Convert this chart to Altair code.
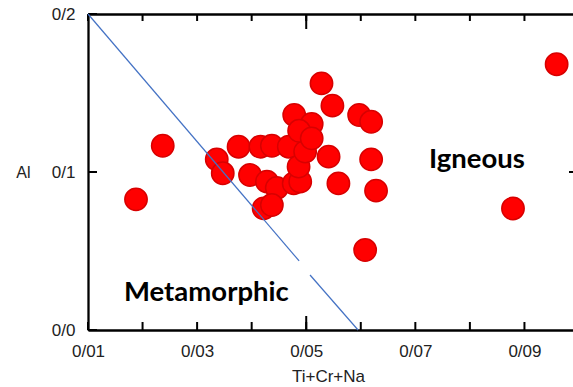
import altair as alt
import pandas as pd

# Sample compositions: Ti+Cr+Na (x) against Al (y)
ti_cr_na = [0.0188, 0.0237, 0.0336, 0.0347, 0.0376, 0.0397, 0.0416, 0.0428,
            0.0437, 0.0446, 0.0422, 0.0437, 0.0468, 0.0477, 0.0489, 0.0486,
            0.0498, 0.0478, 0.0510, 0.0487, 0.0510, 0.0528, 0.0548, 0.0597,
            0.0619, 0.0541, 0.0619, 0.0559, 0.0628, 0.0608, 0.0879, 0.0959]
al = [0.0827, 0.1166, 0.1080, 0.0992, 0.1160, 0.0981, 0.1160, 0.0939,
      0.1166, 0.0899, 0.0770, 0.0791, 0.1160, 0.0928, 0.0939, 0.1034,
      0.1129, 0.1361, 0.1304, 0.1261, 0.1213, 0.1561, 0.1420, 0.1361,
      0.1318, 0.1097, 0.1080, 0.0928, 0.0882, 0.0506, 0.0769, 0.1682]

# Igneous / metamorphic boundary (drawn in two pieces)
boundary_x = [0.01, 0.0487, 0.0507, 0.0595]
boundary_y = [0.2, 0.0437, 0.0348, 0.0]
boundary_piece = ["a", "a", "b", "b"]

# Field names written on the diagram
field_names = ["Metamorphic", "Igneous"]

# Axis ticks and their labels
x_ticks = [0.01, 0.02, 0.03, 0.04, 0.05, 0.06, 0.07, 0.08, 0.09]
x_tick_labels = ["0/01", "", "0/03", "", "0/05", "", "0/07", "", "0/09"]
x_major_ticks = [0.05]
y_ticks = [0.0, 0.1, 0.2]
y_tick_labels = ["0/0", "0/1", "0/2"]
y_right_ticks = [0.1]

W, H = 485, 316

points = pd.DataFrame({"x": ti_cr_na, "y": al})
boundary = pd.DataFrame({"x": boundary_x, "y": boundary_y, "piece": boundary_piece})
xt = pd.DataFrame({"t": x_ticks})
xt_major = pd.DataFrame({"t": x_major_ticks})
yt = pd.DataFrame({"t": y_ticks})
yt_right = pd.DataFrame({"t": y_right_ticks})
meta_df = pd.DataFrame({"label": [field_names[0]]})
ign_df = pd.DataFrame({"label": [field_names[1]]})


def label_expr(values, labels):
    parts = [f"abs(datum.value - {v}) < 1e-9 ? '{lab}'" for v, lab in zip(values, labels)]
    return " : ".join(parts) + " : ''"


FONT = "Liberation Sans"
x_scale = alt.Scale(domain=[0.01, 0.0989], nice=False, zero=False)
y_scale = alt.Scale(domain=[0.0, 0.2], nice=False, zero=False)

line_style = dict(domainColor="black", domainWidth=2.3,
                  ticks=False, grid=False,
                  labelFont=FONT, labelFontSize=17, labelColor="#222222",
                  labelFlush=False,
                  titleFont=FONT, titleFontWeight="normal", titleColor="#222222")

bottom_axis = alt.Axis(orient="bottom", values=x_ticks,
                       labelExpr=label_expr(x_ticks, x_tick_labels),
                       domain=True, labelPadding=13,
                       title="Ti+Cr+Na", titleX=240, titleY=51, titleFontSize=17,
                       titleBaseline="alphabetic", **line_style)
left_axis = alt.Axis(orient="left", values=y_ticks,
                     labelExpr=label_expr(y_ticks, y_tick_labels),
                     domain=True, labelPadding=13,
                     title="Al", titleAngle=0, titleX=-58, titleY=158,
                     titleAlign="right", titleBaseline="middle", titleFontSize=16,
                     **line_style)
top_axis = alt.Axis(orient="top", values=x_ticks, domain=True,
                    labels=False, title=None, **line_style)

dots = alt.Chart(points).mark_circle(
    size=500, color="#FF0000", stroke="#D80000", strokeWidth=1.5, opacity=1
).encode(
    x=alt.X("x:Q", scale=x_scale, axis=bottom_axis),
    y=alt.Y("y:Q", scale=y_scale, axis=left_axis),
)


# Inward-pointing tick marks running from the frame edge into the plot
def x_tick_rules(df, edge, length):
    inner = edge - length if edge > 0 else edge + length
    return alt.Chart(df).mark_rule(color="black", strokeWidth=2).encode(
        x=alt.X("t:Q", scale=x_scale, axis=None),
        y=alt.value(edge),
        y2=alt.value(inner),
    )


def y_tick_rules(df, edge, length):
    inner = edge - length if edge > 0 else edge + length
    return alt.Chart(df).mark_rule(color="black", strokeWidth=2).encode(
        y=alt.Y("t:Q", scale=y_scale, axis=None),
        x=alt.value(edge),
        x2=alt.value(inner),
    )


bottom_ticks = x_tick_rules(xt, H, 8)
bottom_major = x_tick_rules(xt_major, H, 14)
top_ticks = x_tick_rules(xt, 0, 7)
top_major = x_tick_rules(xt_major, 0, 15)
left_ticks = y_tick_rules(yt, 0, 9)
right_ticks = y_tick_rules(yt_right, W, 4)

line = alt.Chart(boundary).mark_line(color="#4472C4", strokeWidth=1.2).encode(
    x=alt.X("x:Q", scale=x_scale, axis=top_axis),
    y=alt.Y("y:Q", scale=y_scale, axis=None),
    detail="piece:N",
)

metamorphic = alt.Chart(meta_df).mark_text(
    font="Lato", fontSize=27.5, fontWeight="bold",
    align="left", baseline="alphabetic", color="black"
).encode(
    x=alt.XDatum(0.0166, scale=x_scale, axis=None),
    y=alt.YDatum(0.0184, scale=y_scale, axis=None),
    text="label:N",
)

igneous = alt.Chart(ign_df).mark_text(
    font="Lato", fontSize=27.5, fontWeight="bold",
    align="center", baseline="alphabetic", color="black"
).encode(
    x=alt.XDatum(0.0813, scale=x_scale, axis=None),
    y=alt.YDatum(0.1028, scale=y_scale, axis=None),
    text="label:N",
)

chart = alt.layer(
    dots, bottom_ticks, bottom_major, top_ticks, top_major, left_ticks, right_ticks,
    line, metamorphic, igneous
).resolve_axis(
    x="independent", y="independent"
).properties(
    width=W, height=H,
    padding={"left": 88, "top": 14, "right": 0, "bottom": 57},
    autosize=alt.AutoSizeParams(type="none"),
    background="white",
).configure_view(stroke=None)

chart.save("out.html", embed_options={"renderer": "svg", "actions": False})
